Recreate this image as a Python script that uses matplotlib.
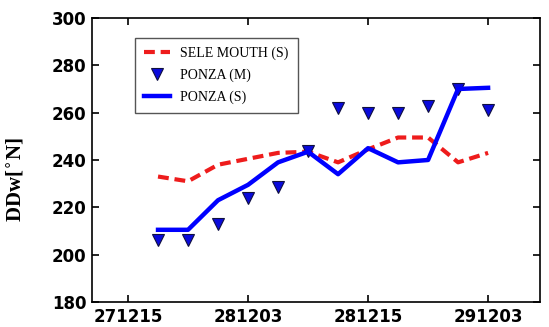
import numpy as np
import matplotlib
matplotlib.use("Agg")
import matplotlib.pyplot as plt

# time index (ticks every 4 steps)
steps = np.arange(1, 13)
tick_pos = [0, 4, 8, 12]
tick_labels = ["271215", "281203", "281215", "291203"]

sele_mouth_s = [233, 231, 238, 240.5, 243, 243.5, 239, 244.5, 249.5, 249.5, 239, 243]
ponza_m = [206, 206, 213, 224, 228.5, 244, 262, 260, 260, 263, 270, 261]
ponza_s = [210.5, 210.5, 223, 229.5, 239, 243.5, 234, 245, 239, 240, 270, 270.5]

fig = plt.figure(figsize=(5.49, 3.27), dpi=100)
ax = fig.add_axes([0.1676, 0.0765, 0.816, 0.8685])

ax.plot(steps, sele_mouth_s, c="#ee1c1c", ls=(0, (2.6, 1.4)), lw=3,
        label="SELE MOUTH (S)")
ax.plot(steps, ponza_m, ls="none", marker="v", ms=8, mfc="#0a0adc",
        mec="#101040", mew=0.8, label="PONZA (M)")
ax.plot(steps, ponza_s, c="#0000ff", lw=3.2, label="PONZA (S)")

ax.set_xlim(-1.2, 13.73)
ax.set_ylim(180, 300)
ax.set_xticks(tick_pos)
ax.set_xticklabels(tick_labels)
ax.set_yticks(np.arange(180, 301, 20))
ax.tick_params(direction="in", top=True, right=True, length=5, width=1.2,
               labelsize=12, pad=4)
for lab in ax.get_xticklabels() + ax.get_yticklabels():
    lab.set_fontweight("bold")
    lab.set_family("DejaVu Sans")
for sp in ax.spines.values():
    sp.set_linewidth(1.2)

ax.set_ylabel(r"DDw[$^{\circ}$N]", family="Liberation Serif", fontsize=15,
              fontweight="bold")
ax.yaxis.set_label_coords(-0.146, 0.43)

leg = ax.legend(loc="upper left", bbox_to_anchor=(0.096, 0.93),
                borderaxespad=0,
                prop={"family": "Liberation Serif", "size": 10},
                fancybox=False, edgecolor="#555555", framealpha=1,
                handlelength=1.9, handletextpad=0.7, labelspacing=0.6,
                borderpad=0.65)
leg.get_frame().set_linewidth(1.0)

fig.savefig("out.png", dpi=100)
